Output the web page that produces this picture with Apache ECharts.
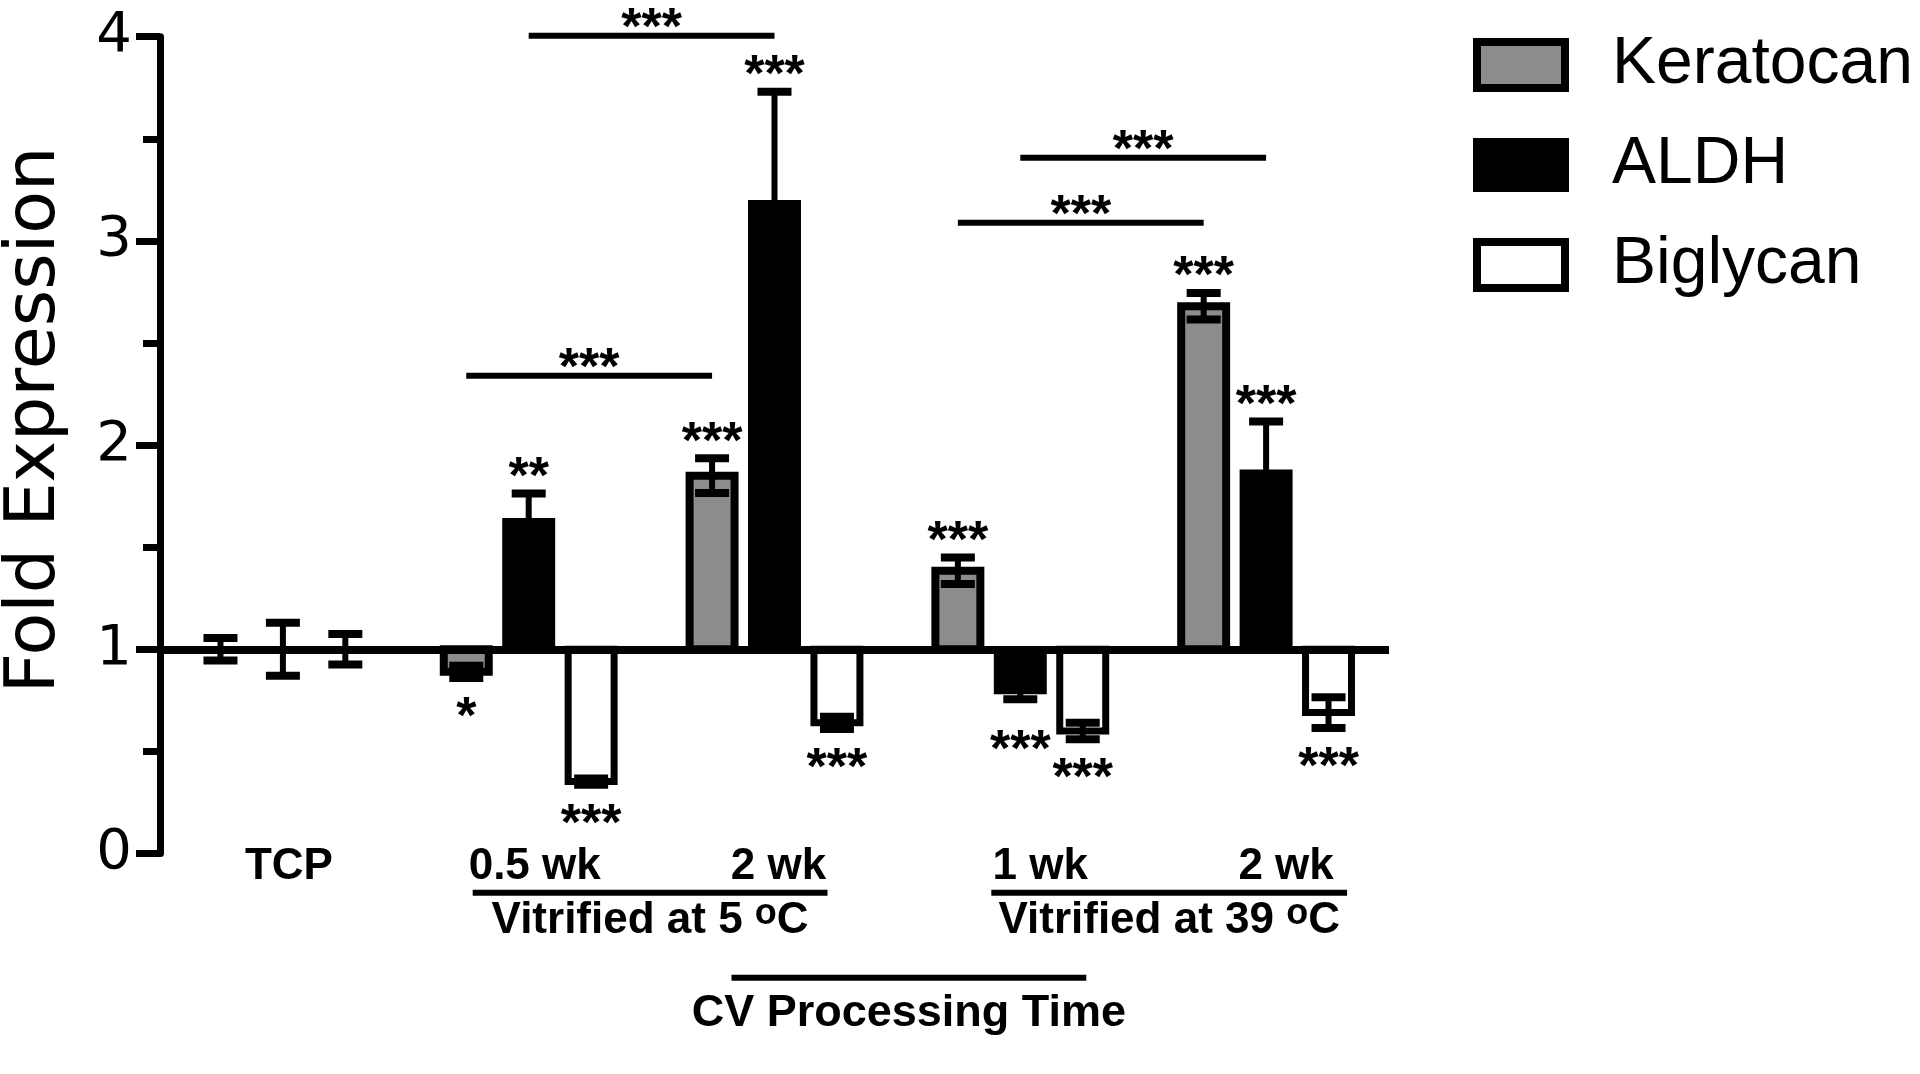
<!DOCTYPE html>
<html><head><meta charset="utf-8">
<script src="https://cdn.jsdelivr.net/npm/echarts@6/dist/echarts.min.js"></script>
<style>html,body{margin:0;padding:0;background:#fff}#c{width:1920px;height:1074px}</style>
</head><body><div id="c"></div>
<script>
// ---------- data ----------
const categories = ['TCP', '0.5 wk', '2 wk', '1 wk', '2 wk'];
const genes = ['Keratocan', 'ALDH', 'Biglycan'];
const keratocan    = [1.00, 0.89, 1.85, 1.385, 2.68];
const keratocanErr = [0.055, 0.03, 0.085, 0.065, 0.065];
const aldh         = [1.00, 1.643, 3.20, 0.78, 1.88];
const aldhErr      = [0.13, 0.12, 0.53, 0.025, 0.235];
const biglycan     = [1.00, 0.352, 0.64, 0.60, 0.69];
const biglycanErr  = [0.075, 0.015, 0.03, 0.04, 0.075];
const keratocanSig = ['', '*', '***', '***', '***'];
const aldhSig      = ['', '**', '***', '***', '***'];
const biglycanSig  = ['', '***', '***', '***', '***'];
const yTickLabels  = ['0', '1', '2', '3', '4'];
const baseline = 1;
// significance brackets between groups
const compGene  = [1, 0, 1, 0];
const compFrom  = [1, 1, 3, 3];
const compTo    = [2, 2, 4, 4];
const compY     = [4.005, 2.34, 3.407, 3.089];
const compLabel = ['***', '***', '***', '***'];
const groupTitles = ['Vitrified at 5 ', 'Vitrified at 39 '];
const processTitle = 'CV Processing Time';
const yName = 'Fold Expression';

// ---------- styling ----------
const labelNudge = [12, 12, 8, 40, 40];
const sigNudge = [[0, 0, 0, 0, 0], [0, 0, 0, 11, 0], [0, 0, 0, 0, 0]];
const geneStyle = [
  {fill: '#8c8c8c', lw: 8},
  {fill: '#000000', lw: 0},
  {fill: '#ffffff', lw: 7}
];
const BOLD = '"Liberation Sans", Arial, sans-serif';

const chart = echarts.init(document.getElementById('c'), null, {renderer: 'canvas'});

function barRenderer(gi, sigs) {
  return function (params, api) {
    const ci = api.value(0), v = api.value(1), e = api.value(2);
    const band = api.size([1, 0])[0];
    const off = (gi - 1) * band * 0.254;
    const bw = band * 0.2155;
    const p = api.coord([ci, v]);
    const cx = p[0] + off, yv = p[1];
    const yb = api.coord([ci, baseline])[1];
    const yT = api.coord([ci, v + e])[1];
    const yB = api.coord([ci, v - e])[1];
    const st = geneStyle[gi];
    const ch = [];
    if (Math.abs(yv - yb) > 0.5) {
      ch.push({type: 'rect',
        shape: {x: cx - bw / 2 + st.lw / 2, y: Math.min(yv, yb), width: bw - st.lw, height: Math.abs(yv - yb)},
        style: {fill: st.fill, stroke: st.lw ? '#000' : null, lineWidth: st.lw}});
    }
    ch.push({type: 'rect', shape: {x: cx - 3, y: yT, width: 6, height: yB - yT}, style: {fill: '#000'}});
    ch.push({type: 'rect', shape: {x: cx - 17, y: yT - 4, width: 34, height: 8}, style: {fill: '#000'}});
    ch.push({type: 'rect', shape: {x: cx - 17, y: yB - 4, width: 34, height: 8}, style: {fill: '#000'}});
    const s = sigs[params.dataIndex];
    if (s) {
      const up = v >= baseline;
      const nudge = sigNudge[gi][params.dataIndex];
      ch.push({type: 'text', x: cx, y: (up ? yT - 15 : yB + 41) + nudge,
        style: {text: s, fill: '#000', font: 'bold 52px ' + BOLD, align: 'center', verticalAlign: 'middle'}});
    }
    return {type: 'group', children: ch};
  };
}

function compRenderer(params, api) {
  const band = api.size([1, 0])[0];
  const g = api.value(3);
  const off = (g - 1) * band * 0.254;
  const p1 = api.coord([api.value(0), api.value(2)]);
  const p2 = api.coord([api.value(1), api.value(2)]);
  return {type: 'group', children: [
    {type: 'rect', shape: {x: p1[0] + off, y: p1[1] - 3, width: p2[0] - p1[0], height: 6}, style: {fill: '#000'}},
    {type: 'text', x: (p1[0] + p2[0]) / 2 + off, y: p1[1] - 18 + 12,
      style: {text: compLabel[params.dataIndex], fill: '#000', font: 'bold 52px ' + BOLD, align: 'center', verticalAlign: 'middle'}}
  ]};
}

const valuesBy = [keratocan, aldh, biglycan];
const errBy = [keratocanErr, aldhErr, biglycanErr];
const sigBy = [keratocanSig, aldhSig, biglycanSig];

const series = genes.map((g, gi) => ({
  type: 'custom', name: g,
  itemStyle: {color: geneStyle[gi].fill, borderColor: '#000', borderWidth: 8},
  encode: {x: 0, y: 1},
  data: valuesBy[gi].map((v, i) => [i, v, errBy[gi][i]]),
  renderItem: barRenderer(gi, sigBy[gi]),
  z: 2
}));
series.push({
  type: 'custom', name: 'comparisons',
  encode: {x: [0, 1], y: 2},
  data: compFrom.map((f, i) => [f, compTo[i], compY[i], compGene[i]]),
  renderItem: compRenderer,
  z: 3,
  markLine: {silent: true, symbol: 'none', label: {show: false}, z: 6,
    lineStyle: {color: '#000', width: 8, type: 'solid'},
    data: [{yAxis: baseline}]}
});

const option = {
  animation: false,
  backgroundColor: '#fff',
  grid: {left: 160, right: 531, top: 36.7, bottom: 220.5},
  xAxis: {
    type: 'category',
    data: categories.map((c, i) => ({value: c, textStyle: {padding: [0, 0, 0, labelNudge[i]]}})),
    axisLine: {show: false}, axisTick: {show: false}, splitLine: {show: false},
    axisLabel: {interval: 0, fontFamily: BOLD, fontWeight: 'bold', fontSize: 44, color: '#000',
      verticalAlign: 'middle', margin: -9}
  },
  yAxis: {
    type: 'value', min: 0, max: 4, interval: 1,
    axisLine: {show: true, lineStyle: {color: '#000', width: 7}},
    axisTick: {show: true, length: 24, lineStyle: {color: '#000', width: 7}},
    minorTick: {show: true, splitNumber: 2, length: 17, lineStyle: {color: '#000', width: 7}},
    splitLine: {show: false},
    axisLabel: {fontFamily: '"DejaVu Sans", sans-serif', fontSize: 56, color: '#000', margin: 28,
      formatter: v => yTickLabels[Math.round(v)]}
  },
  legend: {
    orient: 'vertical', left: 1473, top: 32, padding: 0, itemGap: 34,
    itemWidth: 88, itemHeight: 46, icon: 'rect', selectedMode: false,
    textStyle: {fontFamily: '"Liberation Sans", Arial, sans-serif', fontSize: 66, color: '#000',
      lineHeight: 60, padding: [0, 0, 0, 42]},
    data: genes.map((g, gi) => ({name: g, icon: 'rect',
      itemStyle: {color: geneStyle[gi].fill, borderColor: '#000', borderWidth: 8}}))
  },
  series: series
};
chart.setOption(option);

// ---------- annotations below the axis, positioned from the category axis ----------
const px = i => chart.convertToPixel({xAxisIndex: 0}, i);
const u1 = [px(1) - 56, px(2) + 53];
const u2 = [px(3) - 29, px(4) + 81];
const u3 = [px(2) - 43, px(3) + 66];
const rich = {
  n: {fontFamily: BOLD, fontWeight: 'bold', fontSize: 44, color: '#000', lineHeight: 50},
  s: {fontFamily: BOLD, fontWeight: 'bold', fontSize: 36, color: '#000', lineHeight: 34, verticalAlign: 'top'}
};
chart.setOption({
  graphic: [
    {type: 'rect', shape: {x: u1[0], y: 889.7, width: u1[1] - u1[0], height: 6}, style: {fill: '#000'}},
    {type: 'rect', shape: {x: u2[0], y: 889.7, width: u2[1] - u2[0], height: 6}, style: {fill: '#000'}},
    {type: 'rect', shape: {x: u3[0], y: 974.7, width: u3[1] - u3[0], height: 6}, style: {fill: '#000'}},
    {type: 'text', x: (u1[0] + u1[1]) / 2, y: 921,
      style: {text: '{n|' + groupTitles[0] + '}{s|o}{n|C}', rich: rich, align: 'center', verticalAlign: 'middle'}},
    {type: 'text', x: (u2[0] + u2[1]) / 2, y: 921,
      style: {text: '{n|' + groupTitles[1] + '}{s|o}{n|C}', rich: rich, align: 'center', verticalAlign: 'middle'}},
    {type: 'text', x: (u3[0] + u3[1]) / 2, y: 1014,
      style: {text: processTitle, font: 'bold 45px ' + BOLD, fill: '#000', align: 'center', verticalAlign: 'middle'}},
    {type: 'text', x: 36, y: 420, rotation: Math.PI / 2,
      style: {text: yName, font: '70px "DejaVu Sans", sans-serif', fill: '#000', align: 'center', verticalAlign: 'middle'}}
  ]
});
</script>
</body></html>
